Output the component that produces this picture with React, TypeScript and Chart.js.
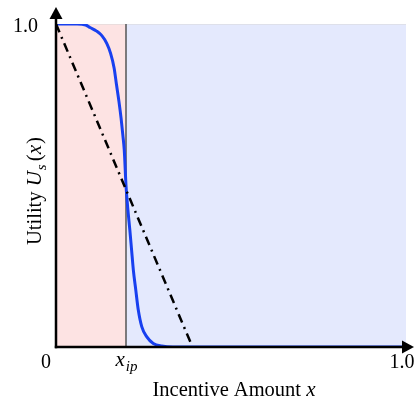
import React, { useEffect, useRef } from "react";
import { Chart, registerables } from "chart.js";

Chart.register(...registerables);

// Logistic-like utility curve
const curveX = [0, 0.06, 0.085, 0.097, 0.116, 0.131, 0.145, 0.156, 0.166, 0.173, 0.18, 0.186, 0.191, 0.195, 0.2, 0.205, 0.211, 0.216, 0.221, 0.228, 0.235, 0.245, 0.259, 0.278, 0.302, 0.334, 0.5, 1.0];
const curveY = [1, 1, 0.997, 0.989, 0.978, 0.964, 0.94, 0.909, 0.864, 0.811, 0.759, 0.708, 0.656, 0.61, 0.5, 0.43, 0.362, 0.3, 0.238, 0.176, 0.115, 0.063, 0.032, 0.011, 0.003, 0, 0, 0];

// Linear (dash-dot) utility
const linearX = [0, 0.39];
const linearY = [1, 0];

// Inflection point and regions
const xIp = 0.2;
const regionPinkX = [0, 0.2];
const regionBlueX = [0.2, 1.0];
const regionTop = 1.0;

// Tick labels
const xTickValues = [0, 0.2, 1.0];
const xTickLabels = ["0", "x_ip", "1.0"];
const yTickValues = [1.0];
const yTickLabels = ["1.0"];

const xTitle = "Incentive Amount ";
const yTitle = "Utility ";

const SERIF = "'Liberation Serif', 'Times New Roman', serif";

const annotPlugin = {
  id: "annot",
  afterDatasetsDraw(chart: any) {
    const { ctx, scales } = chart;
    const xs = scales.x;
    const ys = scales.y;
    const x0 = xs.getPixelForValue(0);
    const y0 = ys.getPixelForValue(0);
    ctx.save();
    ctx.strokeStyle = "#000";
    ctx.fillStyle = "#000";
    ctx.lineWidth = 2.5;
    // y axis
    ctx.beginPath();
    ctx.moveTo(x0, y0 + 1.2);
    ctx.lineTo(x0, 16);
    ctx.stroke();
    ctx.beginPath();
    ctx.moveTo(x0, 7);
    ctx.lineTo(x0 - 6.5, 19);
    ctx.lineTo(x0 + 6.5, 19);
    ctx.closePath();
    ctx.fill();
    // x axis
    ctx.beginPath();
    ctx.moveTo(x0 - 1.2, y0);
    ctx.lineTo(405, y0);
    ctx.stroke();
    ctx.beginPath();
    ctx.moveTo(414, y0);
    ctx.lineTo(402, y0 - 6.5);
    ctx.lineTo(402, y0 + 6.5);
    ctx.closePath();
    ctx.fill();

    // tick labels
    ctx.font = `20px ${SERIF}`;
    ctx.textBaseline = "alphabetic";
    yTickValues.forEach((v, i) => {
      ctx.textAlign = "right";
      ctx.fillText(yTickLabels[i], 38, ys.getPixelForValue(v) + 8);
    });
    xTickValues.forEach((v, i) => {
      const px = xs.getPixelForValue(v);
      const lbl = xTickLabels[i];
      if (lbl === "x_ip") {
        ctx.font = `italic 21px ${SERIF}`;
        const w1 = ctx.measureText("x").width;
        ctx.font = `italic 15px ${SERIF}`;
        const w2 = ctx.measureText("ip").width;
        const start = px - (w1 + w2) / 2;
        ctx.textAlign = "left";
        ctx.font = `italic 21px ${SERIF}`;
        ctx.fillText("x", start, 366);
        ctx.font = `italic 15px ${SERIF}`;
        ctx.fillText("ip", start + w1 + 1, 371);
      } else {
        ctx.font = `20px ${SERIF}`;
        ctx.textAlign = "center";
        const off = i === 0 ? -10 : -4;
        ctx.fillText(lbl, px + off, 368);
      }
    });

    // x title
    ctx.font = `20.5px ${SERIF}`;
    const tw1 = ctx.measureText(xTitle).width;
    ctx.font = `italic 21px ${SERIF}`;
    const tw2 = ctx.measureText("x").width;
    const cx = 234;
    const sx = cx - (tw1 + tw2) / 2;
    ctx.textAlign = "left";
    ctx.font = `20.5px ${SERIF}`;
    ctx.fillText(xTitle, sx, 396);
    ctx.font = `italic 21px ${SERIF}`;
    ctx.fillText("x", sx + tw1, 396);

    // y title (rotated)
    ctx.save();
    ctx.translate(41, 191);
    ctx.rotate(-Math.PI / 2);
    const parts: [string, string, number, number][] = [
      [yTitle, `20.5px ${SERIF}`, 0, 0],
      ["U", `italic 21px ${SERIF}`, 0, 1],
      ["s", `italic 15px ${SERIF}`, 5, 3],
      ["(", `21px ${SERIF}`, 0, 0],
      ["x", `italic 21px ${SERIF}`, 0, 1],
      [")", `21px ${SERIF}`, 0, 0],
    ];
    let total = 0;
    parts.forEach(([t, f, , gap]) => {
      ctx.font = f;
      total += ctx.measureText(t).width + gap;
    });
    let p = -total / 2;
    ctx.textAlign = "left";
    parts.forEach(([t, f, dy, gap]) => {
      ctx.font = f;
      ctx.fillText(t, p, dy);
      p += ctx.measureText(t).width + gap;
    });
    ctx.restore();
    ctx.restore();
  },
};

export default function App() {
  const ref = useRef<HTMLCanvasElement>(null);
  useEffect(() => {
    document.body.style.margin = "0";
    const pts = (xs: number[], ys: number[]) => xs.map((x, i) => ({ x, y: ys[i] }));
    const chart = new Chart(ref.current!, {
      type: "line",
      data: {
        datasets: [
          {
            data: pts(curveX, curveY),
            borderColor: "#1840f0",
            borderWidth: 3,
            pointRadius: 0,
            cubicInterpolationMode: "monotone",
            fill: false,
            order: 2,
          } as any,
          {
            data: pts(linearX, linearY),
            borderColor: "#000",
            borderWidth: 2.5,
            borderDash: [9, 5, 2, 5],
            pointRadius: 0,
            fill: false,
            order: 1,
          },
          {
            data: [{ x: xIp, y: 0 }, { x: xIp, y: regionTop }],
            borderColor: "#555",
            borderWidth: 1.5,
            pointRadius: 0,
            fill: false,
            order: 3,
          },
          {
            data: regionPinkX.map((x) => ({ x, y: regionTop })),
            borderColor: "#d8d8d8",
            borderWidth: 1,
            backgroundColor: "#fde3e3",
            pointRadius: 0,
            fill: "origin",
            order: 5,
          },
          {
            data: regionBlueX.map((x) => ({ x, y: regionTop })),
            borderColor: "#d8d8d8",
            borderWidth: 1,
            backgroundColor: "#e4e9fd",
            pointRadius: 0,
            fill: "origin",
            order: 5,
          },
        ],
      },
      options: {
        animation: false,
        responsive: false,
        maintainAspectRatio: false,
        layout: { padding: { left: 56, top: 24, right: 9, bottom: 56 } },
        plugins: { legend: { display: false }, tooltip: { enabled: false } },
        scales: {
          x: { type: "linear", min: 0, max: 1, display: false },
          y: { type: "linear", min: 0, max: 1, display: false },
        },
      },
      plugins: [annotPlugin],
    });
    return () => chart.destroy();
  }, []);
  return (
    <div style={{ position: "absolute", left: 0, top: 0, width: 415, height: 403, background: "#fff" }}>
      <canvas ref={ref} width={415} height={403} />
    </div>
  );
}
